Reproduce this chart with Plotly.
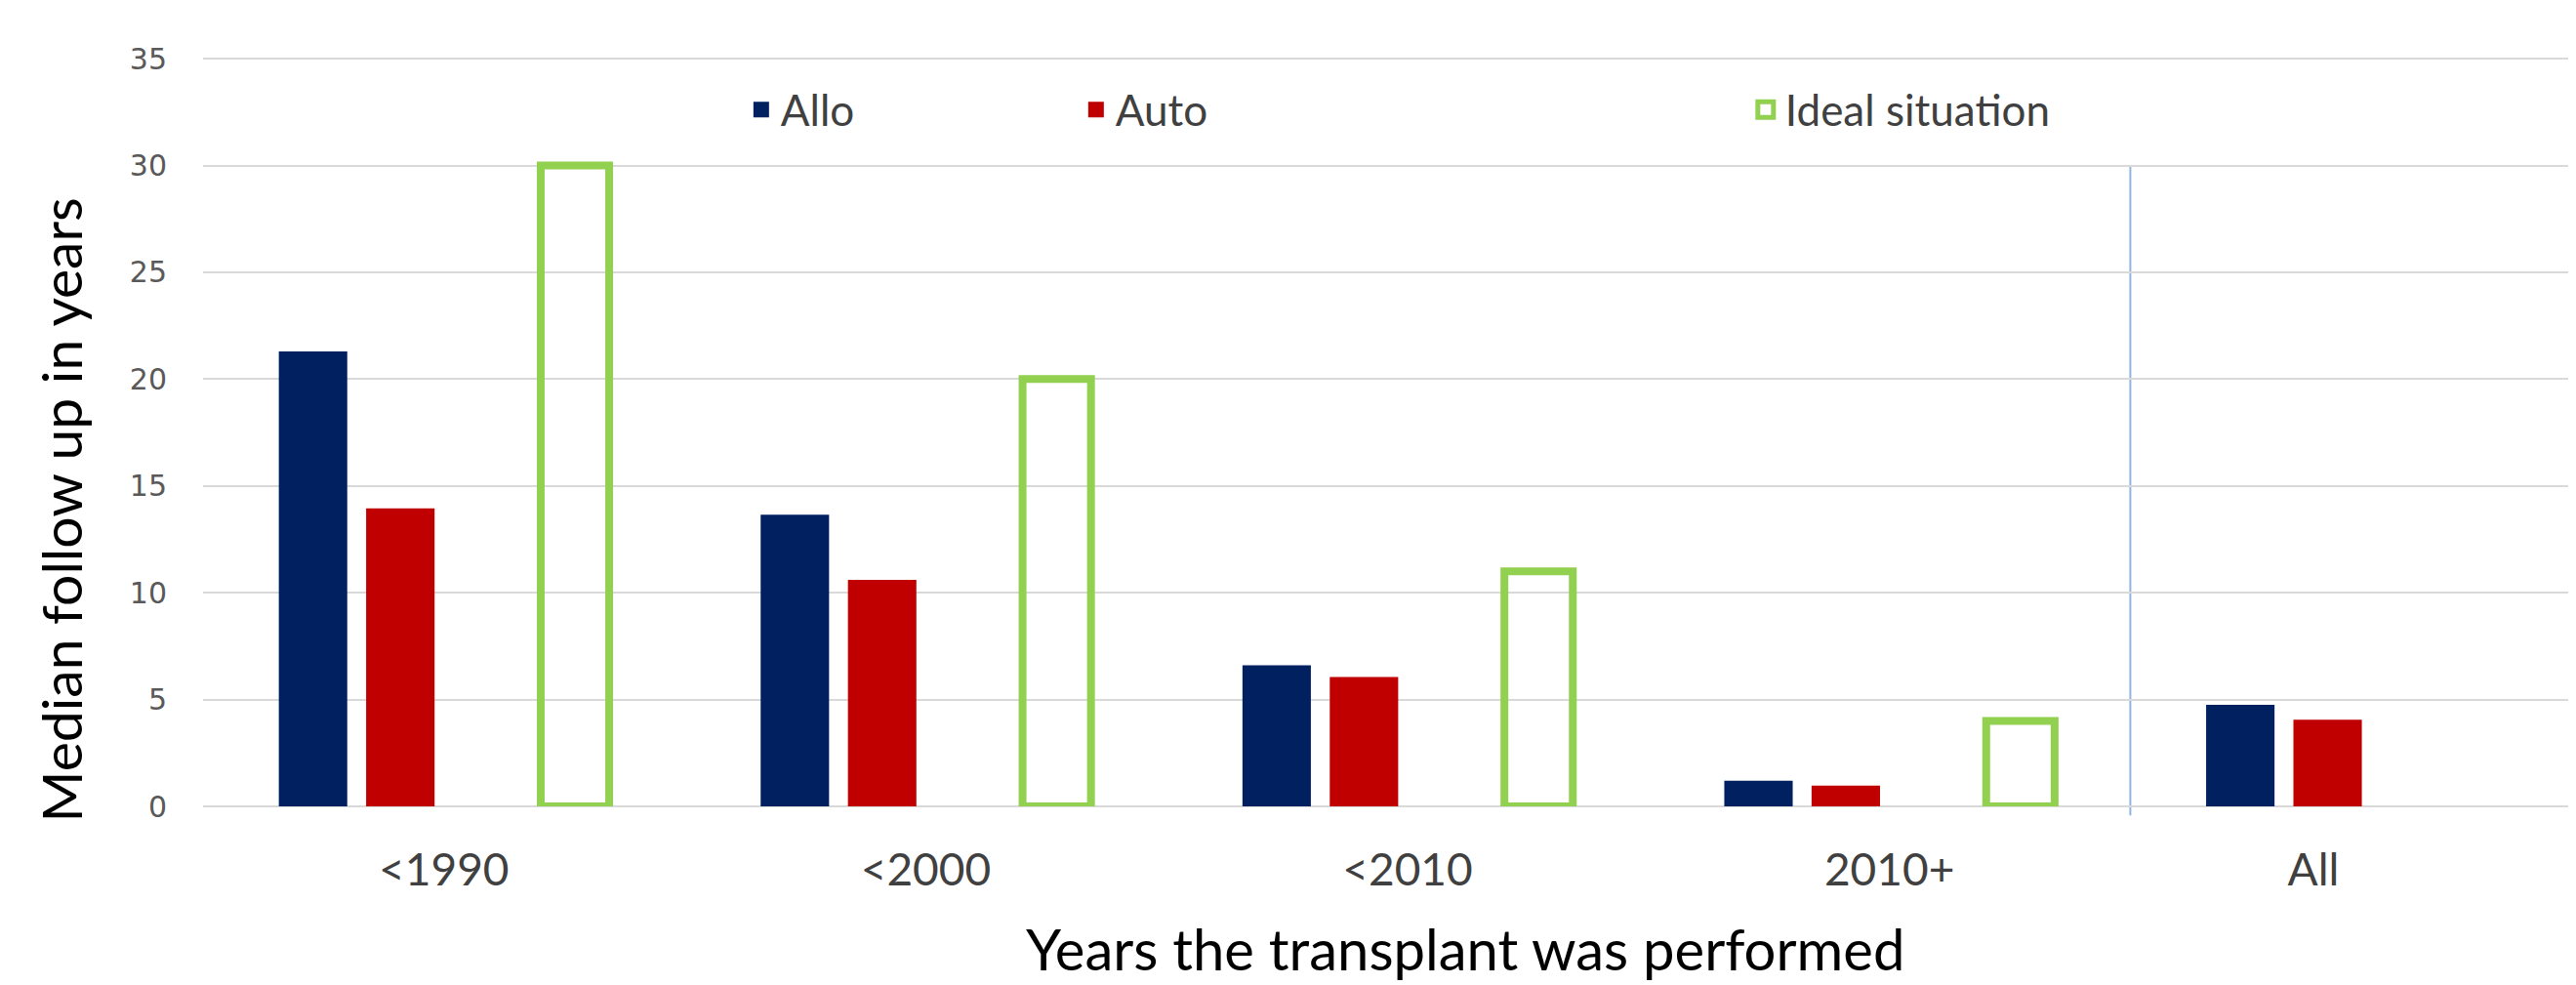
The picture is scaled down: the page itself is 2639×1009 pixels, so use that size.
import plotly.graph_objects as go

# data
periods = ["<1990", "<2000", "<2010", "2010+", "All"]
allo = [21.3, 13.65, 6.6, 1.2, 4.75]
auto = [13.95, 10.6, 6.05, 0.97, 4.05]
ideal = [30, 20, 11, 4, None]
y_ticks = [0, 5, 10, 15, 20, 25, 30, 35]

x_pos = list(range(len(periods)))
bar_w = 0.142

fig = go.Figure()

# Allo / Auto filled bars, Ideal as outlined bar
fig.add_trace(go.Bar(x=x_pos, y=allo, width=bar_w, offset=-0.3427,
                     marker=dict(color="#002060", line=dict(width=0)),
                     name="Allo", showlegend=False))
fig.add_trace(go.Bar(x=x_pos, y=auto, width=bar_w, offset=-0.1615,
                     marker=dict(color="#C00000", line=dict(width=0)),
                     name="Auto", showlegend=False))
fig.add_trace(go.Bar(x=x_pos, y=ideal, width=bar_w, offset=0.2009,
                     marker=dict(color="rgba(255,255,255,0)",
                                 line=dict(color="#92D050", width=8)),
                     name="Ideal situation", showlegend=False))

# legend entries (bigger squares than the default bar icons)
legend_items = [("Allo", "#002060", "#002060", 0),
                ("Auto", "#C00000", "#C00000", 0),
                (" ", "rgba(0,0,0,0)", "rgba(0,0,0,0)", 0),
                ("Ideal situation", "white", "#92D050", 5)]
for name, fill, edge, lw in legend_items:
    fig.add_trace(go.Scatter(x=[None], y=[None], mode="markers", name=name,
                             marker=dict(symbol="square", size=16, color=fill,
                                         line=dict(color=edge, width=lw))))

# separator between the periods and the overall group
fig.add_shape(type="line", xref="x", yref="paper", x0=3.5, x1=3.5, y0=-0.012, y1=30 / 35.05,
              line=dict(color="#8FB3DF", width=2), layer="below")

# axis titles as annotations so they can sit where the original has them
fig.add_annotation(text="Median follow up in years", textangle=-90,
                   xref="paper", yref="paper", x=-0.06, y=0.396,
                   xanchor="center", yanchor="middle", showarrow=False,
                   font=dict(size=57, family="Lato", color="black"))
fig.add_annotation(text="Years the transplant was performed",
                   xref="paper", yref="paper", x=0.532, y=-0.19,
                   xanchor="center", yanchor="middle", showarrow=False,
                   font=dict(size=58, family="Lato", color="black"))

# the page body has an 8px margin, so the figure is 8px smaller than the window
fig.update_layout(
    width=2631, height=1001, autosize=False,
    margin=dict(l=200, r=0, t=51, b=183),
    plot_bgcolor="white", paper_bgcolor="white",
    barmode="overlay",
    font=dict(family="Lato", color="#404040"),
    legend=dict(orientation="h", x=0.227, y=0.93, xanchor="left", yanchor="middle",
                font=dict(size=44, color="#404040", family="Lato"),
                entrywidth=298, entrywidthmode="pixels",
                itemsizing="trace", bgcolor="rgba(0,0,0,0)"),
)

fig.update_xaxes(range=[-0.5, 4.425], tickvals=[0, 1, 2, 3, 3.88], ticktext=periods,
                 showgrid=False, zeroline=False, showline=False, automargin=False,
                 ticks="", ticklabelstandoff=34,
                 tickfont=dict(size=46, family="Lato", color="#404040"))

fig.update_yaxes(range=[0, 35.05], tickvals=y_ticks,
                 showgrid=True, gridcolor="#D9D9D9", gridwidth=2,
                 zeroline=True, zerolinecolor="#D9D9D9", zerolinewidth=2,
                 showline=False, automargin=False, ticks="", ticklabelstandoff=36,
                 tickfont=dict(size=30, family="DejaVu Sans", color="#595959"))

fig.write_html("out.html")
